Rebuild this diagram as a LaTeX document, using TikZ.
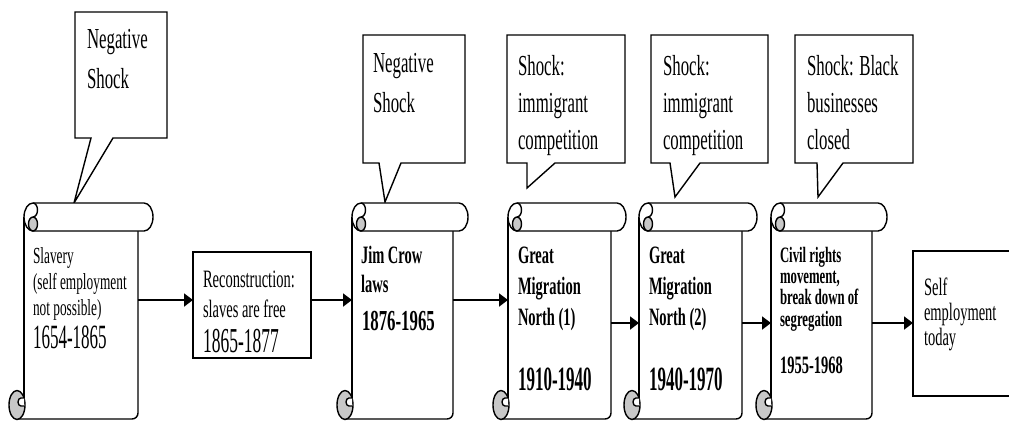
\documentclass[tikz,border=0pt]{standalone}
\usepackage{fontspec}
\setmainfont{Liberation Serif}
\newfontfamily\nf[FakeStretch=0.58]{Liberation Serif}
\newfontfamily\nd[FakeStretch=0.5]{Liberation Serif}
\usetikzlibrary{arrows.meta,fit}
\definecolor{curlgray}{RGB}{200,200,200}
\newcommand\ml[1]{\begin{tabular}[t]{@{}l@{}}#1\end{tabular}}
% scroll frame: body left, body right, top, bottom
\newcommand\scrollframe[4]{%
  \draw[shp, rounded corners=6pt] ({#1-7},#4) -- (#2,#4) -- (#2,{#3+28});
  \draw[shp] (#1,{#3+14}) -- (#1,{#4-20});
  \filldraw[shp, fill=curlgray] ({#1-7},{#4-14}) ellipse [x radius=8, y radius=14.5];
  \filldraw[shp, fill=white] (#1,{#4-21}) -- ({#1-3},{#4-21})
     arc[start angle=-90, end angle=-270, x radius=3, y radius=4] -- (#1,{#4-13});
  \filldraw[shp, fill=white] ({#1+9},#3) -- ({#2+6},#3)
     arc[start angle=-90, end angle=90, x radius=9, y radius=14] -- ({#1+9},{#3+28})
     arc[start angle=90, end angle=270, x radius=9, y radius=14] -- cycle;
  \filldraw[shp, fill=curlgray] ({#1+9},{#3+21}) ellipse [x radius=4.5, y radius=7];
  \draw[shp] ({#1+9},#3) arc[start angle=-90, end angle=90, x radius=4.5, y radius=7];
}
% callout: L T R B pointer-left pointer-right tipx tipy
\newcommand\callout[8]{%
  \filldraw[shp, fill=white, line join=miter] (#1,#2) -- (#3,#2) -- (#3,#4) -- (#6,#4)
     -- (#7,#8) -- (#5,#4) -- (#1,#4) -- cycle;
}
\begin{document}
\begin{tikzpicture}[x=1pt,y=-1pt,
  shp/.style={line width=1.4pt},
  txt/.style={anchor=base west, inner sep=0pt, outer sep=0pt},
  hold/.style={inner sep=0pt, outer sep=0pt},
  box/.style={draw, line width=1.4pt, inner sep=0pt, outer sep=0pt, anchor=north west},
  arr/.style={line width=1.9pt, -{Triangle[length=9pt,width=13pt]}}]
\useasboundingbox (0,0) rectangle (1009,421);

% callouts
\callout{75}{12}{167}{138}{91}{113}{74}{203}
\callout{363}{35}{465}{163}{379}{401}{385}{202}
\callout{507}{35}{625}{163}{527}{555}{527}{188}
\callout{651}{35}{768}{163}{670}{700}{675}{197}
\callout{795}{35}{913}{163}{817}{843}{818}{197}

\node[txt] (c1) at (87,48) {\nf\fontsize{29}{40}\selectfont\ml{Negative\\Shock}};
\node[txt] (c2) at (373,72) {\nf\fontsize{29}{40}\selectfont\ml{Negative\\Shock}};
\node[txt] (c3) at (518,75) {\nf\fontsize{29}{37}\selectfont\ml{Shock:\\immigrant\\competition}};
\node[txt] (c4) at (663,75) {\nf\fontsize{29}{37}\selectfont\ml{Shock:\\immigrant\\competition}};
\node[txt] (c5) at (807,75) {\nf\fontsize{29}{37}\selectfont\ml{Shock: Black\\businesses\\closed}};

% scrolls
\scrollframe{24}{138}{203}{419}
\scrollframe{352}{453}{203}{419}
\scrollframe{508}{611}{203}{419}
\scrollframe{639}{742}{203}{419}
\scrollframe{771}{872}{203}{419}

\node[hold, fit={(24,231) (138,419)}] (s1) {};
\node[hold, fit={(352,231) (453,419)}] (s2) {};
\node[hold, fit={(508,231) (611,419)}] (s3) {};
\node[hold, fit={(639,231) (742,419)}] (s4) {};
\node[hold, fit={(771,231) (872,419)}] (s5) {};

% boxes
\node[box, minimum width=118pt, minimum height=106pt] (rec) at (193,252) {};
\node[box, minimum width=130pt, minimum height=145pt] (self) at (913,251) {};

% texts
\node[txt] (t1) at (33,263) {\nf\fontsize{23}{26}\selectfont\ml{Slavery\\(self employment\\not possible)}};
\node[txt] (d1) at (33,348) {\nd\fontsize{34}{34}\selectfont 1654-1865};
\node[txt] (t2) at (203,287) {\nf\fontsize{25}{30}\selectfont\ml{Reconstruction:\\slaves are free}};
\node[txt] (d2) at (203,352) {\nd\fontsize{35}{35}\selectfont 1865-1877};
\node[txt] (t3) at (361,263) {\nf\bfseries\fontsize{25}{29}\selectfont\ml{Jim Crow\\laws}};
\node[txt] (d3) at (362,330) {\nf\bfseries\fontsize{29}{29}\selectfont 1876-1965};
\node[txt] (t4) at (518,263) {\nf\bfseries\fontsize{25}{31}\selectfont\ml{Great\\Migration\\North (1)}};
\node[txt] (d4) at (518,390) {\nd\bfseries\fontsize{34}{34}\selectfont 1910-1940};
\node[txt] (t5) at (649,263) {\nf\bfseries\fontsize{25}{31}\selectfont\ml{Great\\Migration\\North (2)}};
\node[txt] (d5) at (649,390) {\nd\bfseries\fontsize{34}{34}\selectfont 1940-1970};
\node[txt] (t6) at (780,262) {\nf\bfseries\fontsize{22}{21}\selectfont\ml{Civil rights\\movement,\\break down of\\segregation}};
\node[txt] (d6) at (780,373) {\nf\bfseries\fontsize{25}{25}\selectfont 1955-1968};
\node[txt] (t7) at (924,295) {\nf\fontsize{25}{25}\selectfont\ml{Self\\employment\\today}};

% arrows
\coordinate (ya) at (0,300);
\coordinate (yb) at (0,323);
\draw[arr] (s1.east |- ya) -- (rec.west |- ya);
\draw[arr] (rec.east |- ya) -- (s2.west |- ya);
\draw[arr] (s2.east |- ya) -- (s3.west |- ya);
\draw[arr] (s3.east |- yb) -- (s4.west |- yb);
\draw[arr] (s4.east |- yb) -- (s5.west |- yb);
\draw[arr] (s5.east |- yb) -- (self.west |- yb);
\end{tikzpicture}
\end{document}
